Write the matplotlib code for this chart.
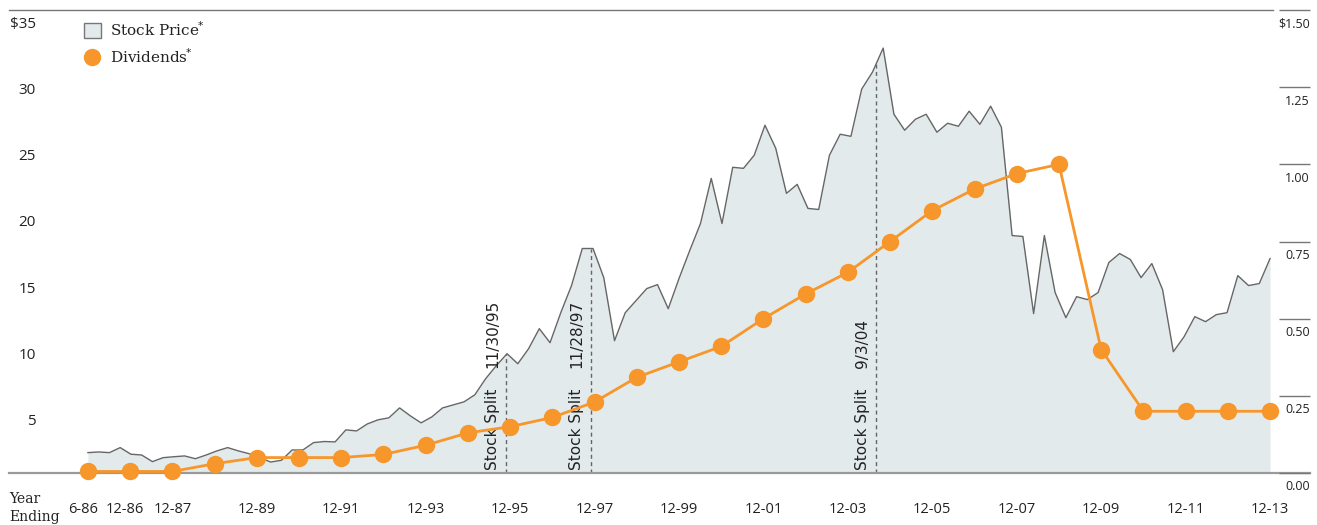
import numpy as np
import matplotlib
matplotlib.use("Agg")
import matplotlib.pyplot as plt
from matplotlib.patches import Patch
from matplotlib.lines import Line2D
from matplotlib.transforms import ScaledTranslation

# quarterly share price (split adjusted), 6-86 through 12-13
price = [1.54, 1.59, 1.54, 1.92, 1.42, 1.36, 0.86, 1.16, 1.23, 1.29,
         1.08, 1.36, 1.67, 1.92, 1.67, 1.46, 1.16, 0.83, 0.96, 1.74,
         1.74, 2.30, 2.38, 2.35, 3.26, 3.18, 3.71, 4.02, 4.17, 4.92,
         4.32, 3.79, 4.24, 4.92, 5.15, 5.38, 5.91, 7.12, 8.11, 9.02,
         8.26, 9.39, 10.91, 9.85, 12.12, 14.17, 16.97, 16.97, 14.77, 10.00,
         12.12, 13.03, 13.94, 14.24, 12.42, 14.70, 16.82, 18.86, 22.27, 18.86,
         23.11, 23.03, 24.02, 26.29, 24.55, 21.14, 21.82, 20.00, 19.92, 24.02,
         25.61, 25.45, 29.02, 30.30, 32.12, 27.12, 25.91, 26.74, 27.12, 25.76,
         26.44, 26.21, 27.35, 26.36, 27.73, 26.14, 17.95, 17.88, 12.05, 17.95,
         13.64, 11.74, 13.33, 13.11, 13.64, 15.91, 16.59, 16.14, 14.77, 15.83,
         13.86, 9.17, 10.30, 11.82, 11.44, 11.97, 12.12, 14.92, 14.17, 14.32,
         16.21]

# dividends per share: 6-86, then each year end 12-86 .. 12-13
dividends = [0.005, 0.005, 0.005, 0.03, 0.05, 0.05, 0.05, 0.06, 0.09, 0.13,
             0.15, 0.18, 0.23, 0.31, 0.36, 0.41, 0.50, 0.58, 0.65, 0.75,
             0.85, 0.92, 0.97, 1.00, 0.40, 0.20, 0.20, 0.20, 0.20]
periods = ["6-86"] + ["12-%02d" % (y % 100) for y in range(1986, 2014)]
tick_labels = ["6-86", "12-86", "12-87"] + ["12-%02d" % (y % 100) for y in range(1989, 2014, 2)]

split_dates = ["11/30/95", "11/28/97", "9/3/04"]

left_ticks = [5, 10, 15, 20, 25, 30, 35]
left_labels = ["5", "10", "15", "20", "25", "30", "$35"]
right_ticks = [0, 0.25, 0.5, 0.75, 1.0, 1.25, 1.5]
right_labels = ["0.00", "0.25", "0.50", "0.75", "1.00", "1.25", "$1.50"]

ORANGE = "#f7962a"
FILL = "#e3eaec"
LINE = "#666666"
TXT = "#222222"

W, H = 1317, 525
fig = plt.figure(figsize=(W / 100, H / 100), dpi=100)
ax = fig.add_axes([9 / W, 52 / H, 1264 / W, 463 / H])


def px(dx, dy):
    return ScaledTranslation(dx / 100, dy / 100, fig.dpi_scale_trans)


x_div = np.arange(len(dividends))
x_price = np.linspace(0, len(dividends) - 1, len(price))

ax.fill_between(x_price, 0, price, color=FILL, lw=0, zorder=1)
ax.plot(x_price, price, color=LINE, lw=1.0, zorder=3)

# stock split markers
for d in split_dates:
    m, day, yy = [int(v) for v in d.split("/")]
    year = 1900 + yy if yy > 50 else 2000 + yy
    sx = (year - 1986) + 1 - (12 - m) / 12 - (31 - day) / 365
    top = np.interp(sx, x_price, price)
    ax.vlines(sx, 0, top, colors="#666666", lw=1.0, linestyles=(0, (2.9, 2.4)), zorder=2)
    ax.annotate("Stock Split", xy=(sx, 0), xytext=(-14, 3), textcoords="offset pixels",
                rotation=90, ha="center", va="bottom", fontsize=11, color=TXT, zorder=4)
    ax.annotate(d, xy=(sx, 0), xytext=(-14, 105), textcoords="offset pixels",
                rotation=90, ha="center", va="bottom", fontsize=11, color=TXT, zorder=4)

ax.set_xlim(-1.87, 28.07)
ax.set_ylim(0, 35)
for s in ["left", "right", "bottom"]:
    ax.spines[s].set_visible(False)
ax.spines["top"].set_color("#777777")
ax.spines["top"].set_linewidth(1.0)
ax.axhline(0, xmin=0, xmax=(1310 - 9) / 1264, color="#9a9a9a", lw=1.6, clip_on=False, zorder=5)

ax.set_xticks([periods.index(t) for t in tick_labels], tick_labels)
ax.tick_params(axis="x", length=0, pad=21, labelsize=10.5, labelcolor=TXT)
for lab in ax.get_xticklabels():
    lab.set_fontfamily("Open Sans")
for lab in ax.get_xticklabels()[:2]:
    lab.set_transform(lab.get_transform() + px(-5, 0))

ax.set_yticks(left_ticks, left_labels)
ax.tick_params(axis="y", length=0, pad=-19.4, labelsize=11, labelcolor=TXT)
for lab in ax.get_yticklabels():
    lab.set_fontfamily("Open Sans")
    lab.set_transform(lab.get_transform() + px(0, -12.5))

# dividends on the right hand scale
ax2 = ax.twinx()
ax2.set_ylim(0, 1.5)
ax2.plot(x_div, dividends, color=ORANGE, lw=2.0, marker="o", ms=11.5,
         clip_on=False, zorder=6)
for s in ["left", "top", "bottom"]:
    ax2.spines[s].set_visible(False)
ax2.spines["right"].set_position(("outward", 4.3))
ax2.spines["right"].set_visible(False)
ax2.set_yticks(right_ticks, right_labels)
ax2.tick_params(axis="y", direction="out", length=22.3, width=1.0, color="#777777",
                pad=0, labelsize=9, labelcolor=TXT)
for lab in ax2.get_yticklabels():
    lab.set_fontfamily("Open Sans")
    lab.set_horizontalalignment("right")
    lab.set_transform(lab.get_transform() + px(0, -12.5))

handles = [Patch(facecolor=FILL, edgecolor="#777777", lw=1.0),
           Line2D([], [], color=ORANGE, marker="o", ms=11.5, lw=0)]
leg = ax.legend(handles, [r"Stock Price$^{\!\!*}$", r"Dividends$^{\!\!*}$"], loc="upper left",
                bbox_to_anchor=(84 / W, 1 - 20 / H), bbox_transform=fig.transFigure,
                frameon=False, borderpad=0, borderaxespad=0, handlelength=1.1,
                handleheight=1.1, handletextpad=0.6, labelspacing=0.55,
                prop={"family": "DejaVu Serif", "size": 11})
for t in leg.get_texts():
    t.set_color(TXT)

fig.text(9 / W, 1 - 508 / H, "Year\nEnding", ha="left", va="center", linespacing=1.3,
         family="DejaVu Serif", fontsize=10, color=TXT)

fig.savefig("out.png", dpi=100)
